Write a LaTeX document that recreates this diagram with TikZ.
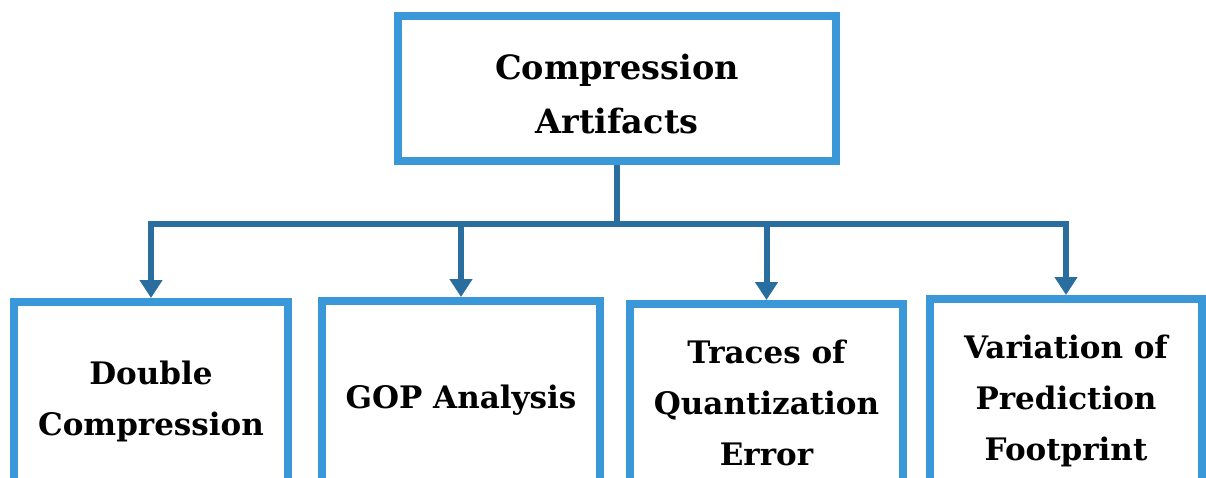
\documentclass[tikz,border=0pt]{standalone}
\usepackage{fontspec}
\setmainfont{DejaVu Serif}
\usetikzlibrary{arrows.meta,positioning}

\definecolor{boxblue}{HTML}{3A98D8}
\definecolor{linkblue}{HTML}{2A6E9F}

\begin{document}
\begin{tikzpicture}[x=1pt,y=-1pt,
            main box/.style={rectangle,draw=boxblue,line width=8pt,fill=white,
              align=center,font=\fontsize{31}{51}\selectfont\bfseries},
            root box/.style={main box,font=\fontsize{33.5}{54}\selectfont\bfseries},
            link/.style={draw=linkblue,line width=6pt},
            arrow/.style={link,-{Triangle[width=22pt,length=18pt]}}]
        \useasboundingbox (0,0) rectangle (1206,477);

        % Define boxes
        \node[root box,minimum width=438pt,minimum height=145pt,text height=90pt,text depth=0pt] (top) at (617,88.5)
            {Compression\\Artifacts};
        \node[main box,minimum width=274pt,minimum height=198pt] (double) at (151,401)
            {Double\\Compression};
        \node[main box,minimum width=278pt,minimum height=198pt] (gop) at (461,400)
            {GOP Analysis};
        \node[main box,minimum width=273pt,minimum height=198pt] (traces) at (766.5,403)
            {Traces of\\Quantization\\Error};
        \node[main box,minimum width=272pt,minimum height=204pt] (pred) at (1066,401)
            {Variation of\\Prediction\\Footprint};

        % Draw edges
        \coordinate (bar) at (617,224);
        \draw[link] (top.south) -- (bar);
        \draw[arrow] (bar) -| (double.north);
        \draw[arrow] (bar) -| (gop.north);
        \draw[arrow] (bar) -| (traces.north);
        \draw[arrow] (bar) -| (pred.north);

        \end{tikzpicture}
\end{document}
